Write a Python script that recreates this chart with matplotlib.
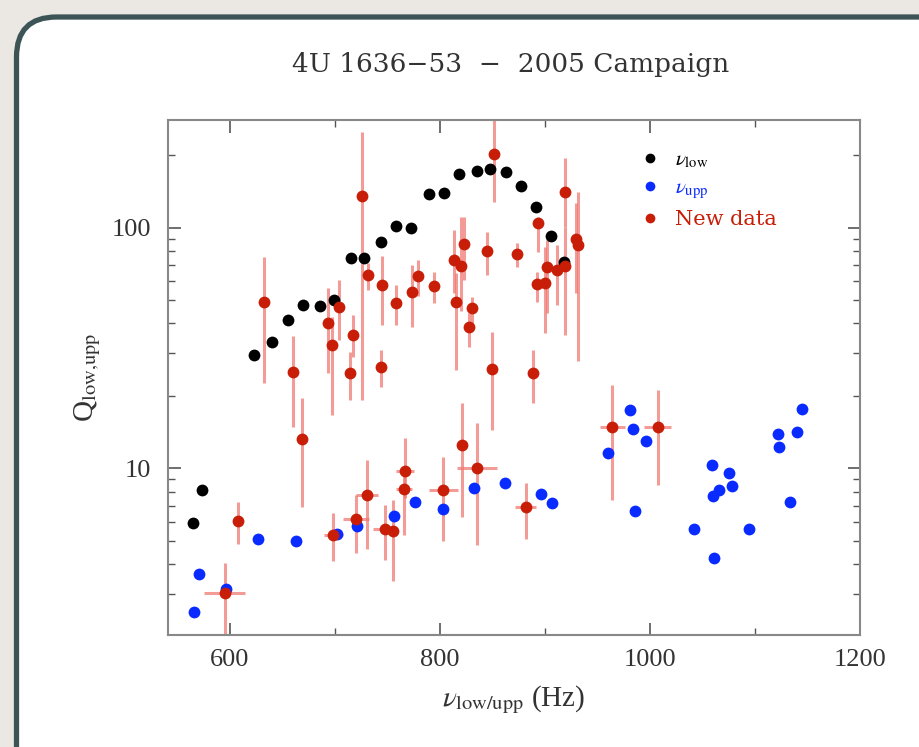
import numpy as np
import matplotlib
matplotlib.use('Agg')
import matplotlib.pyplot as plt
from matplotlib.patches import FancyBboxPatch
from matplotlib.lines import Line2D
from matplotlib.ticker import LogLocator, NullFormatter, MultipleLocator

# lower kHz QPO (black)
nu_low = [565, 573, 623, 640, 655, 670, 686, 699, 715, 728, 744, 758, 772,
          790, 804, 818, 835, 848, 863, 877, 891, 906, 918]
q_low = [5.9, 8.1, 29.6, 33.4, 41.3, 47.7, 47.2, 50.1, 75.0, 75.0, 87.5, 101.6, 100,
         137.7, 139.8, 166.6, 172, 174.8, 171, 148.6, 121.6, 92.6, 72.2]

# upper kHz QPO (blue)
nu_upp = [566, 571, 596, 627, 663, 702, 721, 756, 776, 803, 832, 862, 896, 907,
          960, 981, 984, 986, 996, 1042, 1059, 1060, 1061, 1066, 1075, 1078, 1094,
          1122, 1123, 1133, 1140, 1145]
q_upp = [2.52, 3.64, 3.15, 5.08, 4.99, 5.33, 5.76, 6.36, 7.22, 6.77, 8.26, 8.66, 7.82, 7.19,
         11.6, 17.4, 14.5, 6.67, 13.0, 5.61, 10.3, 7.67, 4.25, 8.13, 9.59, 8.44, 5.61,
         13.9, 12.2, 7.22, 14.1, 17.6]

# new data (red) with lower / upper limits and frequency errors
nu_new = [632.7, 660.3, 668.9, 693.6, 697.4, 704.1, 717.5, 714.3, 725.4, 731.7, 744.4, 743.8,
          758.1, 773.6, 778.7, 794.3, 851.4, 813.3, 819.7, 823.2, 815.2, 830.2, 827.9, 844.4,
          849.2, 873.7, 888.5, 893.3, 892.7, 899.7, 902.3, 911.8, 918.8, 919.1, 929.2, 931.7,
          607.3, 595.2, 698.4, 720.0, 730.2, 747.6, 754.9, 766.7, 765.7, 803.1, 820.6, 834.9,
          881.6, 964.1, 1007.3]
q_new = [49.0, 25.2, 13.2, 40.3, 32.5, 46.7, 35.9, 24.8, 135.5, 63.6, 57.8, 26.4,
         48.8, 54.2, 63.0, 57.4, 201.8, 73.4, 69.5, 85.3, 49.0, 46.5, 38.5, 80.0,
         25.8, 77.5, 24.8, 104, 58.2, 59.0, 68.9, 66.7, 69.5, 140.4, 89.8, 84.7,
         6.03, 3.02, 5.28, 6.14, 7.74, 5.58, 5.48, 9.77, 8.2, 8.13, 12.5, 10.06,
         6.92, 14.9, 14.9]
q_new_lo = [22.6, 14.9, 6.88, 24.8, 16.7, 34.1, 29.1, 19.2, 19.2, 55.1, 39.5, 21.8,
            39.4, 38.8, 52, 48.5, 128, 53.4, 45, 60.6, 25.6, 40, 32, 63.6,
            14.4, 68.8, 18.7, 79.5, 49.3, 36.4, 44, 47.7, 35.8, 101, 53.4, 27.8,
            4.86, 1.5, 4.1, 4.45, 4.6, 4.15, 3.4, 7.5, 5.3, 5.0, 6.3, 4.8,
            5.1, 7.4, 8.5]
q_new_hi = [75.8, 35.5, 19.5, 56, 42.7, 60.6, 43.5, 30.5, 250, 71.1, 76.3, 31,
            57.8, 70, 73.4, 65.6, 300, 97.8, 111, 111, 65, 51.7, 44, 96.2,
            37, 86.1, 31, 111, 65.6, 83.4, 88.9, 84.7, 101, 194, 126, 141,
            7.26, 4.04, 6.5, 7.78, 10.8, 7.06, 7.4, 13.3, 9.5, 11.1, 18.6, 15.4,
            8.7, 22.2, 21.2]
nu_new_err = [0] * 36 + [0, 19.5, 9, 12, 10.5, 11, 0, 9, 8, 14, 0, 19, 10, 12, 13]

plt.rcParams['font.family'] = 'Liberation Serif'
plt.rcParams['mathtext.fontset'] = 'stix'

fig = plt.figure(figsize=(9.19, 7.47), dpi=100)
fig.patch.set_facecolor('#ebe8e3')

# rounded card behind the plot
card = FancyBboxPatch((0.165, -0.5), 9.6, 7.8,
                      boxstyle='round,pad=0,rounding_size=0.40',
                      transform=fig.dpi_scale_trans, facecolor='white',
                      edgecolor='#3d5457', linewidth=3.8, zorder=-5)
fig.patches.append(card)

ax = fig.add_axes([0.1828, 0.15, 0.7530, 0.6894])
ax.set_facecolor('white')
ax.set_zorder(2)

q_new = np.array(q_new)
yerr = [q_new - np.array(q_new_lo), np.array(q_new_hi) - q_new]
ax.errorbar(nu_new, q_new, yerr=yerr, xerr=nu_new_err, fmt='none',
            ecolor='#f07a74', elinewidth=2.2, alpha=0.75, zorder=2)
ax.plot(nu_low, q_low, 'o', color='black', ms=8.5, mec='none', zorder=3)
ax.plot(nu_upp, q_upp, 'o', color='#0a2bff', ms=8.5, mec='none', zorder=3)
ax.plot(nu_new, q_new, 'o', color='#c81e08', ms=8.5, mec='none', zorder=4)

ax.set_yscale('log')
ax.set_xlim(541, 1200)
ax.set_ylim(2.03, 280)
ax.set_yticks([10, 100])
ax.set_yticklabels(['10', '100'])
ax.yaxis.set_minor_locator(LogLocator(base=10, subs=np.arange(2, 10)))
ax.yaxis.set_minor_formatter(NullFormatter())
ax.set_xticks([600, 800, 1000, 1200])
ax.xaxis.set_minor_locator(MultipleLocator(100))

ax.tick_params(which='both', direction='in', top=True, right=True,
               colors='#555555', labelcolor='#333333', labelsize=19)
ax.tick_params(which='major', length=9, width=1.2)
ax.tick_params(which='minor', length=5, width=1.0)
ax.tick_params(axis='x', pad=10)
ax.tick_params(axis='y', pad=12)
for s in ax.spines.values():
    s.set_color('#888888')
    s.set_linewidth(1.5)

ax.set_xlabel(r'$\nu_{\rm low/upp}$ (Hz)', fontsize=21, color='#333333', labelpad=9)
ax.set_ylabel(r'Q$_{\rm low{,}upp}$', fontsize=21, color='#333333', labelpad=6)
fig.text(0.556, 0.913, '4U 1636\u221253  \u2212  2005 Campaign', ha='center', va='center',
         fontsize=19, color='#333333', family='DejaVu Serif')

handles = [Line2D([], [], ls='none', marker='o', color='black', ms=7, mec='none'),
           Line2D([], [], ls='none', marker='o', color='#0a2bff', ms=7, mec='none'),
           Line2D([], [], ls='none', marker='o', color='#c81e08', ms=7, mec='none')]
ax.legend(handles, [r'$\nu_{\rm low}$', r'$\nu_{\rm upp}$', 'New data'],
          loc='upper left', bbox_to_anchor=(0.655, 0.978), frameon=False,
          prop={'family': 'DejaVu Serif', 'size': 15},
          labelcolor=['black', '#0a2bff', '#c81e08'],
          handletextpad=0.7, labelspacing=0.42, handlelength=1.0)

fig.savefig('out.png', dpi=100)
